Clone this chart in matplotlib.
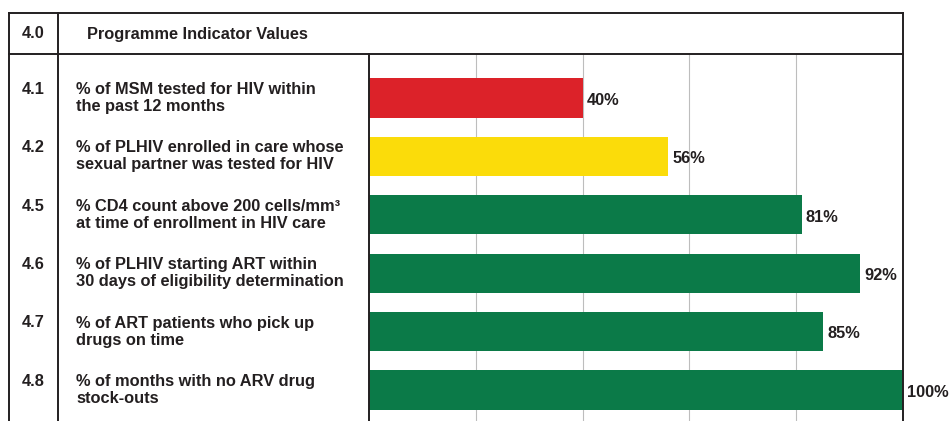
import matplotlib.pyplot as plt
from matplotlib.lines import Line2D
from matplotlib.transforms import blended_transform_factory

# ====data====
codes = ['4.1', '4.2', '4.5', '4.6', '4.7', '4.8']
indicators = [
    '% of MSM tested for HIV within\nthe past 12 months',
    '% of PLHIV enrolled in care whose\nsexual partner was tested for HIV',
    '% CD4 count above 200 cells/mm\u00b3\nat time of enrollment in HIV care',
    '% of PLHIV starting ART within\n30 days of eligibility determination',
    '% of ART patients who pick up\ndrugs on time',
    '% of months with no ARV drug\nstock-outs',
]
values = [40, 56, 81, 92, 85, 100]
bar_colors = ['#dc2229', '#fbdc0a', '#0b7a48', '#0b7a48', '#0b7a48', '#0b7a48']
header_code = '4.0'
header_title = 'Programme Indicator Values'

# ====style====
plt.rcParams['font.family'] = ['Liberation Sans', 'DejaVu Sans']
txt_color = '#231f20'
fs = 11.8
W, H = 952, 421

fig = plt.figure(figsize=(W / 100, H / 100), dpi=100)

def fx(px):  # pixel x -> figure fraction
    return px / W

def fy(py):  # pixel y (from top) -> figure fraction
    return 1 - py / H

# bar area sits in the right column of the table
ax = fig.add_axes([fx(369), 0, fx(903) - fx(369), fy(54)])
pos = list(range(len(values)))
ax.barh(pos, values, height=0.67, color=bar_colors, zorder=3)
ax.set_xlim(0, 100)
ax.set_ylim(5.53, -0.753)
for g in [20, 40, 60, 80]:
    ax.axvline(g, color='#bdbdbd', lw=0.8, zorder=1)
for side in ax.spines.values():
    side.set_visible(False)
ax.set_xticks([])
ax.set_yticks([])

# value labels
for p, v in zip(pos, values):
    ax.text(v + 0.8, p + 0.04, f'{v}%', va='center', ha='left', fontsize=fs,
            fontweight='bold', color=txt_color, clip_on=False)

# indicator text in the left columns
tr = blended_transform_factory(fig.transFigure, ax.transData)
for p, c, lab in zip(pos, codes, indicators):
    ax.text(fx(76), p, lab, transform=tr, va='center', ha='left', fontsize=fs,
            fontweight='bold', color=txt_color, linespacing=1.17, clip_on=False)
    ax.text(fx(33), p - 0.15, c, transform=tr, va='center', ha='center',
            fontsize=fs, fontweight='bold', color=txt_color, clip_on=False)

# header row
fig.text(fx(33), fy(34), header_code, va='center', ha='center', fontsize=fs,
         fontweight='bold', color=txt_color)
fig.text(fx(87), fy(34), header_title, va='center', ha='left', fontsize=fs,
         fontweight='bold', color=txt_color)

# table rules
rules = [
    ((9, 903), (13, 13)),
    ((9, 903), (54, 54)),
    ((9, 9), (13, 421)),
    ((58, 58), (13, 421)),
    ((369, 369), (54, 421)),
    ((903, 903), (13, 421)),
]
for xs, ys in rules:
    fig.add_artist(Line2D([fx(x) for x in xs], [fy(y) for y in ys],
                          transform=fig.transFigure, color=txt_color, lw=1.4))

fig.savefig('out.png', dpi=100)
